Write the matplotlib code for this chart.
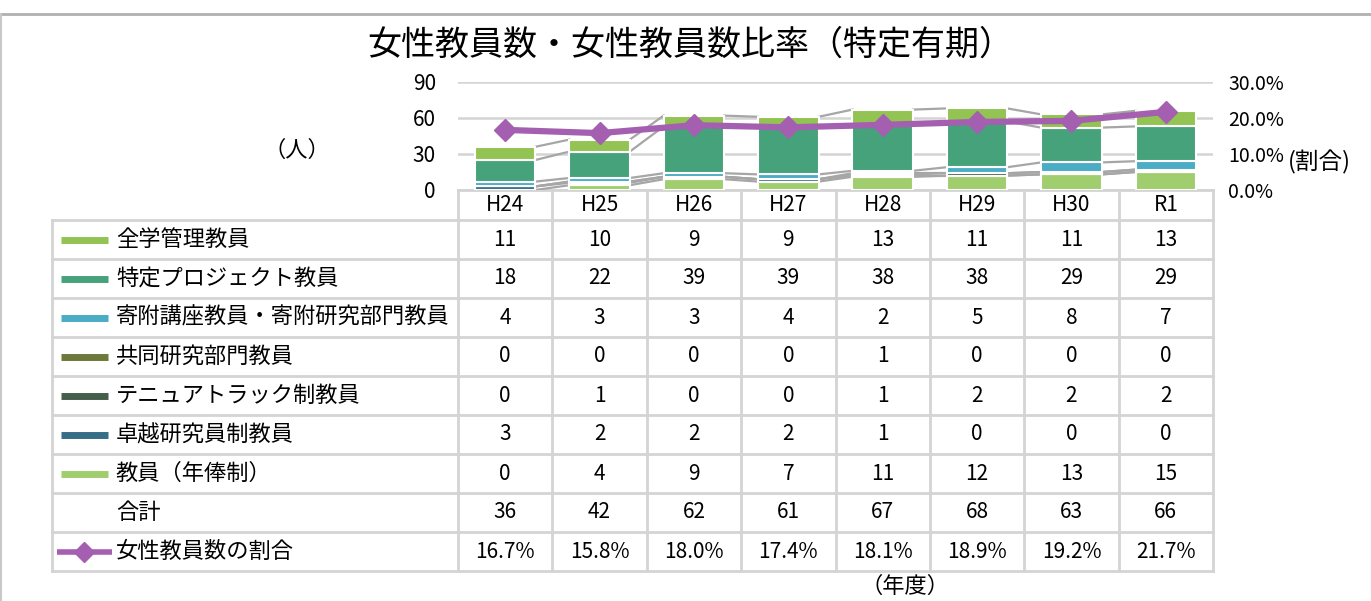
import numpy as np
import matplotlib
matplotlib.use("Agg")
import matplotlib.pyplot as plt

plt.rcParams['font.family'] = ['Noto Sans CJK JP', 'DejaVu Sans']

years = ['H24', 'H25', 'H26', 'H27', 'H28', 'H29', 'H30', 'R1']
zengaku = [11, 10, 9, 9, 13, 11, 11, 13]
tokutei = [18, 22, 39, 39, 38, 38, 29, 29]
kifu = [4, 3, 3, 4, 2, 5, 8, 7]
kyodo = [0, 0, 0, 0, 1, 0, 0, 0]
tenure = [0, 1, 0, 0, 1, 2, 2, 2]
takuetsu = [3, 2, 2, 2, 1, 0, 0, 0]
nenpo = [0, 4, 9, 7, 11, 12, 13, 15]
total = [36, 42, 62, 61, 67, 68, 63, 66]
ratio = [16.7, 15.8, 18.0, 17.4, 18.1, 18.9, 19.2, 21.7]

labels = {
    'zengaku': '全学管理教員',
    'tokutei': '特定プロジェクト教員',
    'kifu': '寄附講座教員・寄附研究部門教員',
    'kyodo': '共同研究部門教員',
    'tenure': 'テニュアトラック制教員',
    'takuetsu': '卓越研究員制教員',
    'nenpo': '教員（年俸制）',
}
colors = {
    'zengaku': '#92C353',
    'tokutei': '#45A27A',
    'kifu': '#4BACC6',
    'kyodo': '#6B7A3A',
    'tenure': '#455E4A',
    'takuetsu': '#376E87',
    'nenpo': '#A0CE6E',
}
values = {'zengaku': zengaku, 'tokutei': tokutei, 'kifu': kifu, 'kyodo': kyodo,
          'tenure': tenure, 'takuetsu': takuetsu, 'nenpo': nenpo}
stack_order = ['nenpo', 'takuetsu', 'tenure', 'kyodo', 'kifu', 'tokutei', 'zengaku']
row_order = ['zengaku', 'tokutei', 'kifu', 'kyodo', 'tenure', 'takuetsu', 'nenpo']
purple = '#A45FB0'
grid_c = '#D4D4D4'

W, H = 1371, 601
fig = plt.figure(figsize=(W / 100, H / 100), dpi=100)

# pixel-space overlay for frame, table and free text
ov = fig.add_axes([0, 0, 1, 1], zorder=0)
ov.set_xlim(0, W)
ov.set_ylim(H, 0)
ov.axis('off')

# chart area
x0, x1 = 458, 1213
y_top, y_bot = 82, 190
ax = fig.add_axes([x0 / W, 1 - y_bot / H, (x1 - x0) / W, (y_bot - y_top) / H], zorder=2)
ax.set_facecolor('none')
n = len(years)
x = np.arange(n)
bw = 0.64
bottom = np.zeros(n)
levels = []
for key in stack_order:
    v = np.array(values[key], dtype=float)
    ax.bar(x, v, bw, bottom=bottom, color=colors[key], edgecolor='white', linewidth=1.5, zorder=3)
    bottom = bottom + v
    levels.append(bottom.copy())

# series lines between neighbouring bars
for lv in levels:
    for i in range(n - 1):
        ax.plot([i + bw / 2, i + 1 - bw / 2], [lv[i], lv[i + 1]], color='#A6A6A6', lw=1.6, zorder=2)

ax.set_xlim(-0.5, n - 0.5)
ax.set_ylim(0, 90)
ax.set_yticks([0, 30, 60, 90])
ax.yaxis.grid(True, color=grid_c, lw=1.8)
ax.set_axisbelow(True)
ax.set_xticks([])
for s in ax.spines.values():
    s.set_visible(False)
ax.tick_params(axis='y', length=0, labelsize=15, pad=16)

ax2 = ax.twinx()
ax2.plot(x, ratio, color=purple, lw=4.5, marker='D', markersize=11, zorder=5)
ax2.set_ylim(0, 30)
ax2.set_yticks([0, 10, 20, 30])
ax2.set_yticklabels([f'{t:.1f}%' for t in [0, 10, 20, 30]])
ax2.tick_params(axis='y', length=0, labelsize=14, pad=11)
for s in ax2.spines.values():
    s.set_visible(False)

# outer frame
ov.plot([0, W], [14, 14], color='#B0B0B0', lw=2)
ov.plot([1, 1], [14, H], color='#C8C8C8', lw=1.5)

# table grid
tl = 52
col_w = (x1 - x0) / n
row_y = [220 + 39 * k for k in range(10)]
ov.plot([x0, x1], [190, 190], color=grid_c, lw=2)
for y in row_y:
    ov.plot([tl, x1], [y, y], color=grid_c, lw=2)
ov.plot([tl, tl], [row_y[0], row_y[-1]], color=grid_c, lw=2)
for k in range(n + 1):
    xx = x0 + k * col_w
    ov.plot([xx, xx], [190, row_y[-1]], color=grid_c, lw=2)

for i, yr in enumerate(years):
    ov.text(x0 + (i + 0.5) * col_w, 205, yr, ha='center', va='center', fontsize=15)

rows = [(labels[k], values[k], colors[k]) for k in row_order]
rows.append(('合計', total, None))
for r, (lab, vals, c) in enumerate(rows):
    yc = (row_y[r] + row_y[r + 1]) / 2
    if c is not None:
        ov.plot([61, 108], [yc, yc], color=c, lw=5, solid_capstyle='butt')
    ov.text(116, yc, lab, ha='left', va='center', fontsize=16)
    for i, v in enumerate(vals):
        ov.text(x0 + (i + 0.5) * col_w, yc, str(v), ha='center', va='center', fontsize=15)

yc = (row_y[8] + row_y[9]) / 2
ov.plot([57, 112], [yc, yc], color=purple, lw=4, solid_capstyle='butt')
ov.plot([84], [yc], marker='D', color=purple, markersize=10)
ov.text(116, yc, '女性教員数の割合', ha='left', va='center', fontsize=16)
for i, v in enumerate(ratio):
    ov.text(x0 + (i + 0.5) * col_w, yc, f'{v:.1f}%', ha='center', va='center', fontsize=15)

# titles
ov.text(690, 45, '女性教員数・女性教員数比率（特定有期）', ha='center', va='center', fontsize=24.5)
ov.text(297, 150, '（人）', ha='center', va='center', fontsize=16)
ov.text(1288, 162, '(割合)', ha='left', va='center', fontsize=17)
ov.text(905, 586, '（年度）', ha='center', va='center', fontsize=16)

fig.savefig('out.png', dpi=100)
